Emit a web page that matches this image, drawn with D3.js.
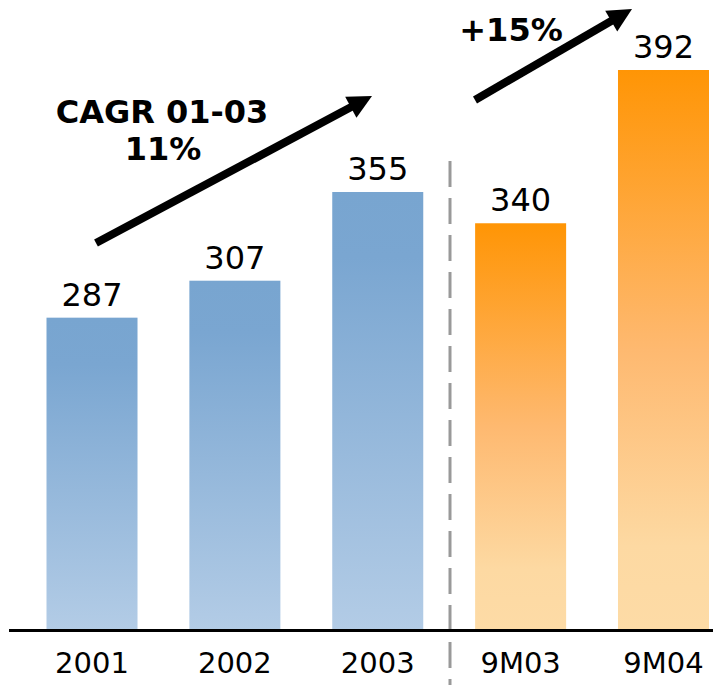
<!DOCTYPE html>
<html>
<head>
<meta charset="utf-8">
<script src="https://cdn.jsdelivr.net/npm/d3@7"></script>
<style>
  body { margin: 0; background: #fff; }
  text { font-family: Verdana, "DejaVu Sans", sans-serif; fill: #000; }
</style>
</head>
<body>
<script>
var width = 713,
    height = 685,
    baseline = 630;

// chart values
var categories = ["2001", "2002", "2003", "9M03", "9M04"];
var values = [287, 307, 355, 340, 392];
var periods = ["annual", "annual", "annual", "nine", "nine"];

var svg = d3.select("body").append("svg")
    .attr("width", width)
    .attr("height", height);

var x = d3.scaleBand()
    .domain(categories)
    .range([46.5, 709])
    .paddingInner(0.363)
    .paddingOuter(0);

// the original is two panels glued together, each on its own truncated axis
var yAnnual = d3.scaleLinear()
    .domain([118, 355])
    .range([baseline, 192]);

var yNine = d3.scaleLinear()
    .domain([202, 392])
    .range([baseline, 70]);

function y(d, i) {
  return periods[i] == "annual" ? yAnnual(d) : yNine(d);
}

var defs = svg.append("defs");

var blue = defs.append("linearGradient")
    .attr("id", "grad-annual")
    .attr("x1", 0).attr("y1", 0).attr("x2", 0).attr("y2", 1);
blue.append("stop").attr("offset", 0).attr("stop-color", "#78a5d0");
blue.append("stop").attr("offset", 0.15).attr("stop-color", "#7aa6d1");
blue.append("stop").attr("offset", 1).attr("stop-color", "#b3cce6");

var orange = defs.append("linearGradient")
    .attr("id", "grad-nine")
    .attr("x1", 0).attr("y1", 0).attr("x2", 0).attr("y2", 1);
orange.append("stop").attr("offset", 0).attr("stop-color", "#ff9505");
orange.append("stop").attr("offset", 0.5).attr("stop-color", "#feb970");
orange.append("stop").attr("offset", 0.85).attr("stop-color", "#fdd9a2");
orange.append("stop").attr("offset", 1).attr("stop-color", "#fddba6");

// bars
svg.append("g").selectAll("rect")
    .data(values)
  .enter().append("rect")
    .attr("x", function(d, i) { return x(categories[i]); })
    .attr("y", function(d, i) { return y(d, i); })
    .attr("width", x.bandwidth())
    .attr("height", function(d, i) { return baseline - y(d, i); })
    .attr("fill", function(d, i) { return "url(#grad-" + periods[i] + ")"; });

// value labels
svg.append("g").selectAll("text")
    .data(values)
  .enter().append("text")
    .attr("x", function(d, i) { return x(categories[i]) + x.bandwidth() / 2; })
    .attr("y", function(d, i) { return y(d, i) - 12; })
    .attr("text-anchor", "middle")
    .style("font-size", "32px")
    .text(function(d) { return d; });

// separator between the two panels
svg.append("line")
    .attr("x1", 450).attr("x2", 450)
    .attr("y1", 161).attr("y2", height)
    .attr("stroke", "#999")
    .attr("stroke-width", 3)
    .attr("stroke-dasharray", "26,11");

// x axis
var axis = svg.append("g")
    .attr("transform", "translate(0," + baseline + ")")
    .call(d3.axisBottom(x).tickSize(0).tickPadding(22));
axis.select(".domain").remove();
axis.selectAll("text")
    .style("font-size", "29px")
    .style("font-family", "Verdana, 'DejaVu Sans', sans-serif")
    .attr("fill", "#000");

svg.append("line")
    .attr("x1", 9).attr("x2", width)
    .attr("y1", baseline + 0.5).attr("y2", baseline + 0.5)
    .attr("stroke", "#000")
    .attr("stroke-width", 3);

// growth arrows
function arrow(x1, y1, x2, y2) {
  var a = Math.atan2(y2 - y1, x2 - x1),
      len = 24, half = 12,
      bx = x2 - len * Math.cos(a),
      by = y2 - len * Math.sin(a),
      px = -Math.sin(a), py = Math.cos(a);
  svg.append("line")
      .attr("x1", x1).attr("y1", y1)
      .attr("x2", bx + 2 * Math.cos(a)).attr("y2", by + 2 * Math.sin(a))
      .attr("stroke", "#000")
      .attr("stroke-width", 8);
  svg.append("path")
      .attr("d", "M" + x2 + "," + y2 +
                 "L" + (bx + half * px) + "," + (by + half * py) +
                 "L" + (bx - half * px) + "," + (by - half * py) + "Z")
      .attr("fill", "#000");
}

arrow(96, 243, 372, 96);
arrow(475, 100, 632, 9);

svg.append("text")
    .attr("x", 162).attr("y", 123)
    .attr("text-anchor", "middle")
    .style("font-size", "32px")
    .style("font-weight", "bold")
    .text("CAGR 01-03");

svg.append("text")
    .attr("x", 163).attr("y", 160)
    .attr("text-anchor", "middle")
    .style("font-size", "32px")
    .style("font-weight", "bold")
    .text("11%");

svg.append("text")
    .attr("x", 511).attr("y", 41)
    .attr("text-anchor", "middle")
    .style("font-size", "32px")
    .style("font-weight", "bold")
    .text("+15%");
</script>
</body>
</html>
